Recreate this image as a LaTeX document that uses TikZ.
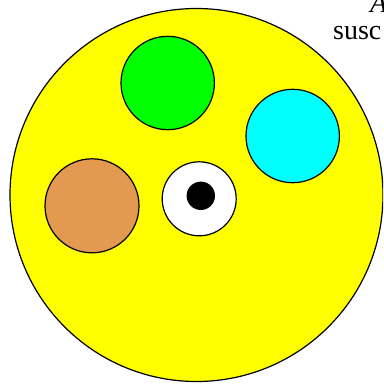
\documentclass[tikz,border=0pt]{standalone}
\usepackage{tikz}
\usetikzlibrary{positioning}
\usepackage{fontspec}
\setmainfont{Liberation Serif}
\usepackage{xcolor}
\definecolor{field}{HTML}{FFFF00}
\definecolor{spotgreen}{HTML}{00FF00}
\definecolor{spotcyan}{HTML}{00FFFF}
\definecolor{spotbrown}{HTML}{E39A50}

\begin{document}
\begin{tikzpicture}[
  x=1pt, y=-1pt,
  disc/.style={draw, circle, line width=1.2pt, inner sep=0pt, outer sep=0pt},
  txt/.style={anchor=base west, inner sep=0pt, font=\fontsize{28}{32}\selectfont}
]
  \useasboundingbox (0,0) rectangle (383,385);
  \clip (0,0) rectangle (383,385);

  % Clipped text
  \node[txt] (lineA) at (370,13) {\textit{A}};
  \node[txt] (lineB) at (333,40) {susc};

  % Outer field
  \node[disc, fill=field, minimum size=373pt] (field) at (196.5,195) {};

  % Spots
  \node[disc, fill=spotgreen, minimum size=93.4pt] (green) at (167.7,83) {};
  \node[disc, fill=spotcyan, minimum size=93.4pt] (cyan) at (292.7,136) {};
  \node[disc, fill=spotbrown, minimum size=94pt] (brown) at (92,205.8) {};

  % Centre eye
  \node[disc, fill=white, minimum size=74pt] (eye) at (199.2,198.8) {};
  \node[circle, fill=black, inner sep=0pt, minimum size=28.4pt] (pupil) at (200.8,195.8) {};
\end{tikzpicture}
\end{document}
